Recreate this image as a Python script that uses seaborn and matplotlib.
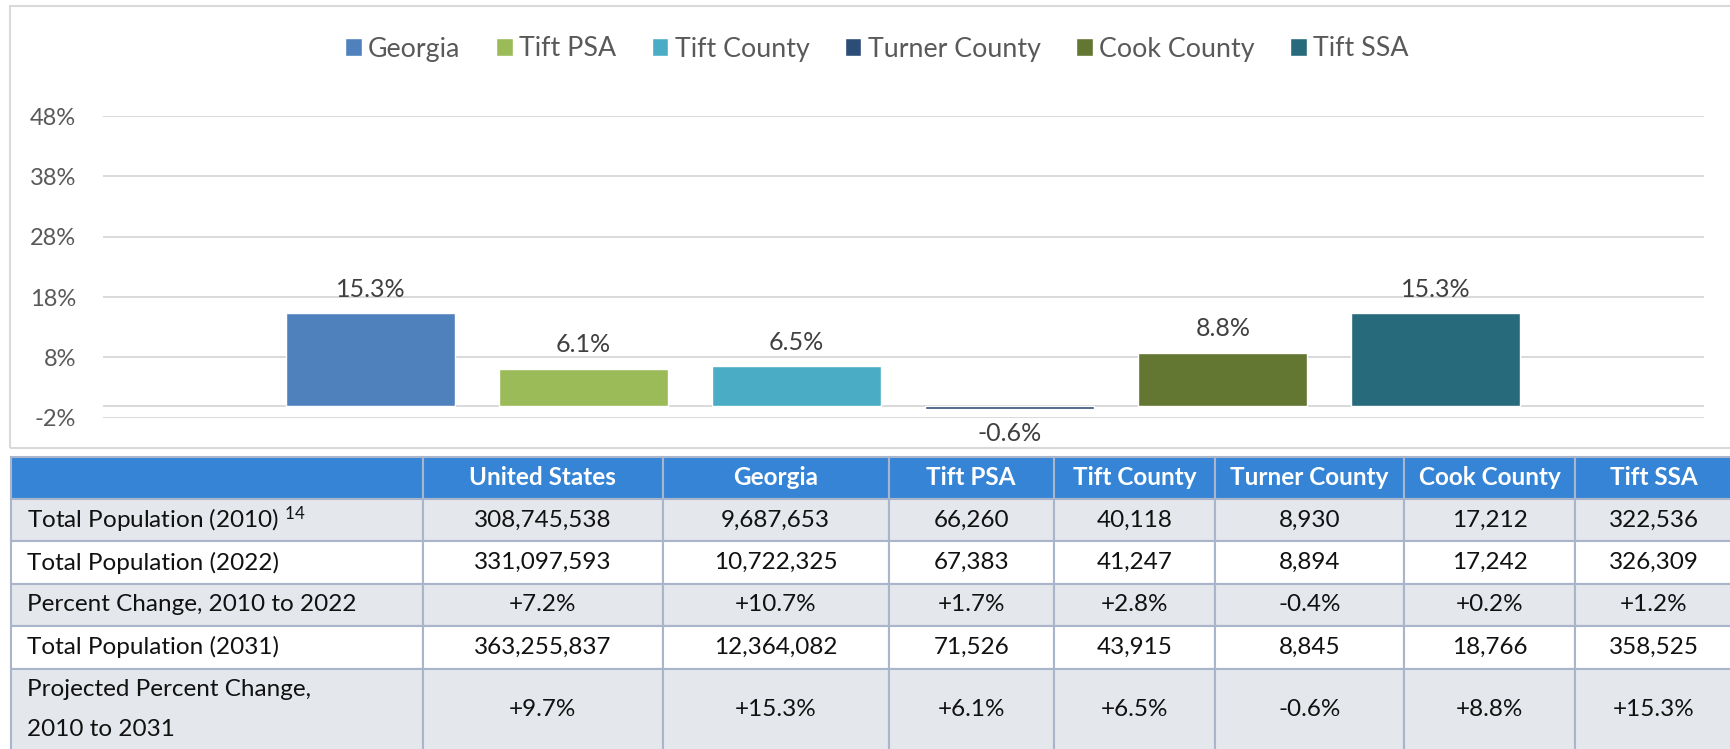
import matplotlib
matplotlib.use('Agg')
import pandas as pd
import matplotlib.pyplot as plt
import seaborn as sns
from matplotlib.patches import Rectangle

# chart data
areas = ['Georgia', 'Tift PSA', 'Tift County', 'Turner County', 'Cook County', 'Tift SSA']
proj_change = [15.3, 6.1, 6.5, -0.6, 8.8, 15.3]
bar_colors = ['#4F81BD', '#9BBB59', '#4BACC6', '#2C4D75', '#637632', '#276A7C']
y_ticks = [-2, 8, 18, 28, 38, 48]

# table data
table_cols = ['', 'United States'] + areas
row_labels = ['Total Population (2010) $^{14}$', 'Total Population (2022)',
              'Percent Change, 2010 to 2022', 'Total Population (2031)',
              'Projected Percent Change,\n2010 to 2031']
pop_2010 = [308745538, 9687653, 66260, 40118, 8930, 17212, 322536]
pop_2022 = [331097593, 10722325, 67383, 41247, 8894, 17242, 326309]
chg_2022 = [7.2, 10.7, 1.7, 2.8, -0.4, 0.2, 1.2]
pop_2031 = [363255837, 12364082, 71526, 43915, 8845, 18766, 358525]
chg_2031 = [9.7] + proj_change

sns.set_style('white')
plt.rcParams['font.family'] = ['Lato', 'DejaVu Sans']
plt.rcParams['mathtext.fontset'] = 'custom'
plt.rcParams['mathtext.rm'] = 'Lato'
plt.rcParams['mathtext.default'] = 'regular'

W, H = 1730, 749
fig = plt.figure(figsize=(W / 100, H / 100), dpi=100)

# chart frame
fig.add_artist(Rectangle((10 / W, 1 - 448 / H), (W + 10) / W, 442 / H, transform=fig.transFigure,
                         fill=False, edgecolor='#D9D9D9', lw=1.5))

ax = fig.add_axes([102.6 / W, 1 - 417.7 / H, 1601.2 / W, 301.7 / H])
df = pd.DataFrame({'area': areas, 'change': proj_change})
sns.barplot(data=df, x='area', y='change', hue='area', palette=bar_colors,
            width=0.792, saturation=1, legend=True, ax=ax, zorder=3)

for c in ax.containers:
    ax.bar_label(c, fmt='%.1f%%', padding=9, fontsize=18, color='#404040')

ax.set_ylim(-2, 48)
ax.set_yticks(y_ticks)
ax.set_yticklabels([f'{t}%' for t in y_ticks], fontsize=17, color='#595959')
ax.set_xlim(-1.2575, 6.2575)
ax.set_xticks([])
ax.set_xlabel('')
ax.set_ylabel('')
ax.tick_params(axis='y', length=0, pad=19)
ax.yaxis.grid(True, color='#D9D9D9', lw=1.4, zorder=0)
ax.axhline(0, color='#D9D9D9', lw=1.4, zorder=1)
sns.despine(ax=ax, left=True, bottom=True)

sns.move_legend(ax, 'center', bbox_to_anchor=(877 / W, 1 - 49 / H), bbox_transform=fig.transFigure,
                ncol=6, frameon=False, title=None, fontsize=19.3, labelcolor='#595959',
                handlelength=0.61, handleheight=0.61, handletextpad=0.24, columnspacing=1.33)

# table below the chart
ax_t = fig.add_axes([0, 0, 1, 1])
ax_t.axis('off')

cells = [
    [row_labels[0]] + [f'{v:,}' for v in pop_2010],
    [row_labels[1]] + [f'{v:,}' for v in pop_2022],
    [row_labels[2]] + [f'{v:+.1f}%' for v in chg_2022],
    [row_labels[3]] + [f'{v:,}' for v in pop_2031],
    [row_labels[4]] + [f'{v:+.1f}%' for v in chg_2031],
]
col_w = [411.5, 239.8, 226.3, 164.8, 161.4, 189, 171, 157]
row_h = [42.3, 42.4, 42.4, 42.4, 42.4, 82]
x0, top = 11.2, 456.7
tot_w, tot_h = sum(col_w), sum(row_h)

tbl = ax_t.table(cellText=cells, colLabels=table_cols, cellLoc='center',
                 bbox=[x0 / W, 1 - (top + tot_h) / H, tot_w / W, tot_h / H])
tbl.auto_set_font_size(False)
tbl.set_fontsize(17.5)

for (r, c), cell in tbl.get_celld().items():
    cell.set_width(col_w[c])
    cell.set_height(row_h[r])
    cell.set_edgecolor('#A9B5CA')
    cell.set_linewidth(1.5)
    txt = cell.get_text()
    if r == 0:
        cell.set_facecolor('#3584D6')
        txt.set_color('white')
        txt.set_fontweight('bold')
    else:
        cell.set_facecolor('#E4E7EC' if r % 2 == 1 else 'white')
        txt.set_color('#111111')
        if c == 0:
            cell._loc = 'left'
            cell.PAD = 0.039
            txt.set_ha('left')
            txt.set_linespacing(2.15)

fig.savefig('out.png', dpi=100, facecolor='white')
